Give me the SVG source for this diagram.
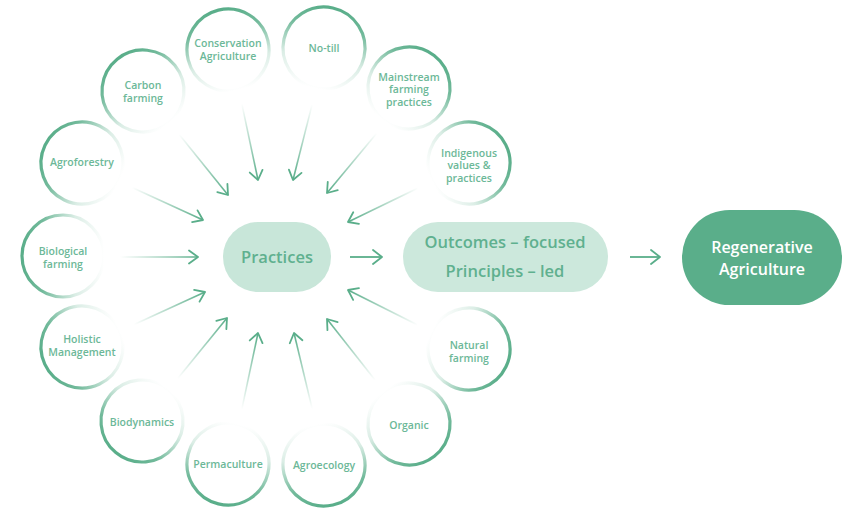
<svg xmlns="http://www.w3.org/2000/svg" width="850" height="515" viewBox="0 0 850 515">
<defs>
  <linearGradient id="ring" x1="0" y1="0.5" x2="1" y2="0.5">
    <stop offset="0" stop-color="#5aae8a" stop-opacity="0"/>
    <stop offset="0.35" stop-color="#5aae8a" stop-opacity="0.22"/>
    <stop offset="0.75" stop-color="#5aae8a" stop-opacity="0.85"/>
    <stop offset="1" stop-color="#5aae8a" stop-opacity="1"/>
  </linearGradient>
  <linearGradient id="fade" gradientUnits="userSpaceOnUse" x1="-78" y1="0" x2="0" y2="0">
    <stop offset="0" stop-color="#5aae8a" stop-opacity="0"/>
    <stop offset="1" stop-color="#5aae8a" stop-opacity="1"/>
  </linearGradient>
</defs>
<style>
  .ring{fill:#ffffff;stroke:url(#ring);stroke-width:3.2}
  .lbl{font-family:"Open Sans","Liberation Sans",sans-serif;font-weight:600;font-size:10.5px;fill:#6cb898;text-anchor:middle}
  .big{font-family:"Open Sans","Liberation Sans",sans-serif;font-weight:600;font-size:16.5px;fill:#5fb08f;text-anchor:middle}
  .white{fill:#ffffff;font-size:16px}
  .shaft{stroke:url(#fade);stroke-width:1.6;fill:none}
  .head{stroke:#5aae8a;stroke-width:1.8;fill:none;stroke-linecap:round;stroke-linejoin:round}
  .solid{stroke:#5aae8a;stroke-width:1.8;fill:none}
</style>

<g id="connectors">
  <g transform="translate(228,195) rotate(51.1)"><line class="shaft" x1="-78" y1="0" x2="0" y2="0"/><path class="head" d="M-9,-6.5 L0,0 L-9,6.5"/></g>
  <g transform="translate(258,180) rotate(78)"><line class="shaft" x1="-78" y1="0" x2="0" y2="0"/><path class="head" d="M-9,-6.5 L0,0 L-9,6.5"/></g>
  <g transform="translate(293,180) rotate(104.2)"><line class="shaft" x1="-78" y1="0" x2="0" y2="0"/><path class="head" d="M-9,-6.5 L0,0 L-9,6.5"/></g>
  <g transform="translate(327,193) rotate(129.8)"><line class="shaft" x1="-78" y1="0" x2="0" y2="0"/><path class="head" d="M-9,-6.5 L0,0 L-9,6.5"/></g>
  <g transform="translate(348,222) rotate(154.1)"><line class="shaft" x1="-78" y1="0" x2="0" y2="0"/><path class="head" d="M-9,-6.5 L0,0 L-9,6.5"/></g>
  <g transform="translate(348,290) rotate(206.6)"><line class="shaft" x1="-78" y1="0" x2="0" y2="0"/><path class="head" d="M-9,-6.5 L0,0 L-9,6.5"/></g>
  <g transform="translate(327,319) rotate(231.8)"><line class="shaft" x1="-78" y1="0" x2="0" y2="0"/><path class="head" d="M-9,-6.5 L0,0 L-9,6.5"/></g>
  <g transform="translate(294,333) rotate(256.5)"><line class="shaft" x1="-78" y1="0" x2="0" y2="0"/><path class="head" d="M-9,-6.5 L0,0 L-9,6.5"/></g>
  <g transform="translate(258,333) rotate(282)"><line class="shaft" x1="-78" y1="0" x2="0" y2="0"/><path class="head" d="M-9,-6.5 L0,0 L-9,6.5"/></g>
  <g transform="translate(227,318) rotate(309.2)"><line class="shaft" x1="-78" y1="0" x2="0" y2="0"/><path class="head" d="M-9,-6.5 L0,0 L-9,6.5"/></g>
  <g transform="translate(205,292) rotate(335.4)"><line class="shaft" x1="-78" y1="0" x2="0" y2="0"/><path class="head" d="M-9,-6.5 L0,0 L-9,6.5"/></g>
  <g transform="translate(198,257) rotate(0)"><line class="shaft" x1="-78" y1="0" x2="0" y2="0"/><path class="head" d="M-9,-6.5 L0,0 L-9,6.5"/></g>
  <g transform="translate(203,220) rotate(24.6)"><line class="shaft" x1="-78" y1="0" x2="0" y2="0"/><path class="head" d="M-9,-6.5 L0,0 L-9,6.5"/></g>
  <g transform="translate(382,257)"><line class="solid" x1="-32" y1="0" x2="0" y2="0"/><path class="head" d="M-9,-7 L0,0 L-9,7"/></g>
  <g transform="translate(660,257)"><line class="solid" x1="-30" y1="0" x2="0" y2="0"/><path class="head" d="M-9,-7 L0,0 L-9,7"/></g>
</g>

<g id="conservation-agriculture"><circle class="ring" cx="228" cy="50" r="41" transform="rotate(-103.6 228 50)"/><text class="lbl" x="228" y="47">Conservation</text><text class="lbl" x="228" y="60">Agriculture</text></g>
<g id="no-till"><circle class="ring" cx="324" cy="48" r="41" transform="rotate(-77.6 324 48)"/><text class="lbl" x="324" y="52">No-till</text></g>
<g id="mainstream"><circle class="ring" cx="409" cy="88" r="41" transform="rotate(-52.2 409 88)"/><text class="lbl" x="409" y="80.5">Mainstream</text><text class="lbl" x="409" y="93">farming</text><text class="lbl" x="409" y="105.5">practices</text></g>
<g id="indigenous"><circle class="ring" cx="469" cy="163" r="41" transform="rotate(-26.2 469 163)"/><text class="lbl" x="469" y="156.5">Indigenous</text><text class="lbl" x="469" y="169">values &amp;</text><text class="lbl" x="469" y="181.5">practices</text></g>
<g id="natural-farming"><circle class="ring" cx="469" cy="349" r="41" transform="rotate(25.7 469 349)"/><text class="lbl" x="469" y="349">Natural</text><text class="lbl" x="469" y="361.5">farming</text></g>
<g id="organic"><circle class="ring" cx="409" cy="424" r="41" transform="rotate(51.9 409 424)"/><text class="lbl" x="409" y="428.5">Organic</text></g>
<g id="agroecology"><circle class="ring" cx="324" cy="465" r="41" transform="rotate(77.5 324 465)"/><text class="lbl" x="324" y="469">Agroecology</text></g>
<g id="permaculture"><circle class="ring" cx="228" cy="464" r="41" transform="rotate(103.6 228 464)"/><text class="lbl" x="228" y="468">Permaculture</text></g>
<g id="biodynamics"><circle class="ring" cx="142" cy="421" r="41" transform="rotate(129.7 142 421)"/><text class="lbl" x="142" y="426">Biodynamics</text></g>
<g id="holistic-management"><circle class="ring" cx="82" cy="347" r="41" transform="rotate(155.3 82 347)"/><text class="lbl" x="82" y="343">Holistic</text><text class="lbl" x="82" y="356">Management</text></g>
<g id="biological-farming"><circle class="ring" cx="63" cy="256" r="41" transform="rotate(180 63 256)"/><text class="lbl" x="63" y="254.5">Biological</text><text class="lbl" x="63" y="267.5">farming</text></g>
<g id="agroforestry"><circle class="ring" cx="82" cy="163" r="41" transform="rotate(205.6 82 163)"/><text class="lbl" x="82" y="166">Agroforestry</text></g>
<g id="carbon-farming"><circle class="ring" cx="143" cy="91" r="41" transform="rotate(230.9 143 91)"/><text class="lbl" x="143" y="89">Carbon</text><text class="lbl" x="143" y="101.5">farming</text></g>

<g id="practices"><rect x="223" y="222" width="108" height="70" rx="35" fill="#c8e6d9"/><text class="big" x="277" y="263" font-size="17">Practices</text></g>
<g id="outcomes"><rect x="403" y="222" width="205" height="70" rx="35" fill="#cce8dc"/><text class="big" x="505" y="248">Outcomes – focused</text><text class="big" x="505" y="277">Principles – led</text></g>
<g id="regenerative-agriculture"><rect x="682" y="210" width="160" height="95" rx="47.5" fill="#5aae8a"/><text class="big white" x="762" y="253">Regenerative</text><text class="big white" x="762" y="275">Agriculture</text></g>
</svg>
